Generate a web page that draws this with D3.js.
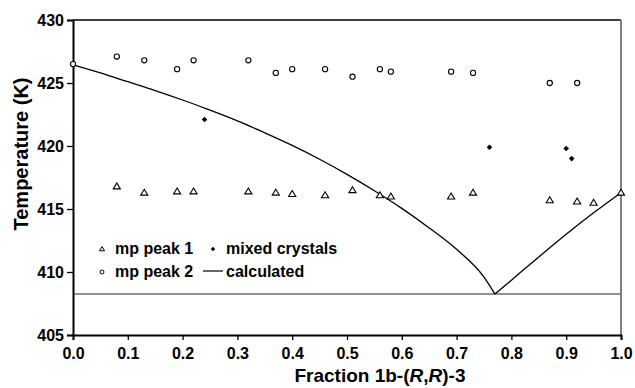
<!DOCTYPE html>
<html>
<head>
<meta charset="utf-8">
<script src="https://cdn.jsdelivr.net/npm/d3@7"></script>
<style>
  body { margin: 0; background: #fff; }
  svg text { font-family: "Liberation Sans", Arial, sans-serif; font-weight: bold; fill: #000; }
</style>
</head>
<body>
<div id="chart"></div>
<script>
// ---- Data
const peak1X = [0.08, 0.13, 0.19, 0.22, 0.32, 0.37, 0.40, 0.46, 0.51, 0.56, 0.58, 0.69, 0.73, 0.87, 0.92, 0.95, 1.00];
const peak1T = [416.8, 416.3, 416.4, 416.4, 416.4, 416.3, 416.2, 416.1, 416.5, 416.1, 416.0, 416.0, 416.3, 415.7, 415.6, 415.5, 416.3];

const peak2X = [0.00, 0.08, 0.13, 0.19, 0.22, 0.32, 0.37, 0.40, 0.46, 0.51, 0.56, 0.58, 0.69, 0.73, 0.87, 0.92];
const peak2T = [426.5, 427.1, 426.8, 426.1, 426.8, 426.8, 425.8, 426.1, 426.1, 425.5, 426.1, 425.9, 425.9, 425.8, 425.0, 425.0];

const mixedX = [0.24, 0.76, 0.90, 0.91];
const mixedT = [422.1, 419.9, 419.8, 419.0];

// calculated liquidus, left branch (up to the eutectic) and right branch
const calcLeftX = [0.00, 0.05, 0.10, 0.15, 0.20, 0.25, 0.30, 0.35, 0.40, 0.45, 0.50, 0.55, 0.60, 0.65, 0.70, 0.75, 0.77];
const calcLeftT = [426.45, 425.8, 425.1, 424.4, 423.65, 422.85, 422.0, 421.05, 420.05, 418.95, 417.75, 416.45, 415.05, 413.5, 411.8, 409.6, 408.25];
const calcRightX = [0.77, 0.80, 0.85, 0.90, 0.95, 1.00];
const calcRightT = [408.25, 409.35, 411.2, 413.0, 414.7, 416.3];

const eutecticT = 408.25;

const xTicks = [0, 0.1, 0.2, 0.3, 0.4, 0.5, 0.6, 0.7, 0.8, 0.9, 1.0];
const yTicks = [405, 410, 415, 420, 425, 430];

const legendItems = ['mp peak 1', 'mixed crystals', 'mp peak 2', 'calculated'];

// ---- Layout
const W = 635, H = 388;
const margin = { top: 20, right: 14, bottom: 53, left: 73 };
const width = W - margin.left - margin.right;
const height = H - margin.top - margin.bottom;

const svg = d3.select('#chart').append('svg')
    .attr('width', W).attr('height', H);

const x = d3.scaleLinear().domain([0, 1]).range([0, width]);
const y = d3.scaleLinear().domain([405, 430]).range([height, 0]);

const g = svg.append('g').attr('transform', `translate(${margin.left},${margin.top})`);

// ---- Frame: top black, right gray
g.append('line').attr('x1', 0).attr('x2', width).attr('y1', 0).attr('y2', 0)
    .style('stroke', '#000').style('stroke-width', 1.5);
g.append('line').attr('x1', width).attr('x2', width).attr('y1', 0).attr('y2', height)
    .style('stroke', '#808080').style('stroke-width', 2);

// ---- Eutectic horizontal line
g.append('line')
    .attr('x1', x(0)).attr('x2', x(1))
    .attr('y1', y(eutecticT)).attr('y2', y(eutecticT))
    .style('stroke', '#6e6e6e').style('stroke-width', 1.5);

// ---- Calculated curve (two branches meeting at the eutectic)
const line = d3.line().x(d => x(d[0])).y(d => y(d[1])).curve(d3.curveMonotoneX);
[[calcLeftX, calcLeftT], [calcRightX, calcRightT]].forEach(([xs, ts]) => {
    g.append('path')
        .datum(xs.map((v, i) => [v, ts[i]]))
        .attr('d', line)
        .style('fill', 'none').style('stroke', '#000').style('stroke-width', 1.3);
});

// ---- Axes
const xAxis = g.append('g').attr('transform', `translate(0,${height})`)
    .call(d3.axisBottom(x).tickValues(xTicks).tickFormat(d3.format('.1f')).tickSize(5).tickPadding(5));
const yAxis = g.append('g')
    .call(d3.axisLeft(y).tickValues(yTicks).tickFormat(d3.format('d')).tickSize(6).tickPadding(3));

[xAxis, yAxis].forEach(a => {
    a.select('.domain').style('stroke', '#000').style('stroke-width', 2);
    a.selectAll('.tick line').style('stroke', '#000').style('stroke-width', 1.3);
    a.selectAll('.tick text').style('font-size', '16px')
        .style('font-family', '"Liberation Sans", Arial, sans-serif').style('font-weight', 'bold');
});
xAxis.selectAll('.tick text').attr('dy', '0.85em');

// ---- Markers
const triPath = r => `M0,${-r}L${r * 1.05},${r * 0.75}L${-r * 1.05},${r * 0.75}Z`;
const diaPath = r => `M0,${-r}L${r},0L0,${r}L${-r},0Z`;

g.selectAll('.p1').data(peak1X.map((v, i) => [v, peak1T[i]])).join('path')
    .attr('class', 'p1')
    .attr('transform', d => `translate(${x(d[0])},${y(d[1])})`)
    .attr('d', triPath(3.4))
    .style('fill', '#fff').style('stroke', '#000').style('stroke-width', 1.1);

g.selectAll('.p2').data(peak2X.map((v, i) => [v, peak2T[i]])).join('circle')
    .attr('class', 'p2')
    .attr('cx', d => x(d[0])).attr('cy', d => y(d[1])).attr('r', 2.6)
    .style('fill', '#fff').style('stroke', '#000').style('stroke-width', 1.1);

g.selectAll('.mx').data(mixedX.map((v, i) => [v, mixedT[i]])).join('path')
    .attr('class', 'mx')
    .attr('transform', d => `translate(${x(d[0])},${y(d[1])})`)
    .attr('d', diaPath(2.8))
    .style('fill', '#000');

// ---- Axis titles
svg.append('text')
    .attr('x', 380).attr('y', 382)
    .attr('text-anchor', 'middle')
    .style('font-size', '19px')
    .html('Fraction 1b-(<tspan font-style="italic">R</tspan>,<tspan font-style="italic">R</tspan>)-3');

svg.append('text')
    .attr('transform', 'translate(27.5,154) rotate(-90)')
    .attr('text-anchor', 'middle')
    .style('font-size', '20px')
    .text('Temperature (K)');

// ---- Legend
const legend = svg.append('g');
const colX = [102, 213];
const textX = [115, 226];
const rowY = [254, 277];
legendItems.forEach((label, i) => {
    const c = i % 2, r = Math.floor(i / 2);
    const cy = rowY[r] - 5;
    const item = legend.append('g');
    if (i === 0) {
        item.append('path').attr('transform', `translate(${colX[c]},${cy})`).attr('d', triPath(2.4))
            .style('fill', '#fff').style('stroke', '#000').style('stroke-width', 1);
    } else if (i === 1) {
        item.append('path').attr('transform', `translate(${colX[c]},${cy})`).attr('d', diaPath(2.2))
            .style('fill', '#000');
    } else if (i === 2) {
        item.append('circle').attr('cx', colX[c]).attr('cy', cy).attr('r', 2)
            .style('fill', '#fff').style('stroke', '#000').style('stroke-width', 1);
    } else {
        item.append('line').attr('x1', colX[c] - 10).attr('x2', colX[c] + 10)
            .attr('y1', cy - 1).attr('y2', cy - 1)
            .style('stroke', '#000').style('stroke-width', 1.2);
    }
    item.append('text').attr('x', textX[c]).attr('y', rowY[r])
        .style('font-size', '16px').text(label);
});
</script>
</body>
</html>
